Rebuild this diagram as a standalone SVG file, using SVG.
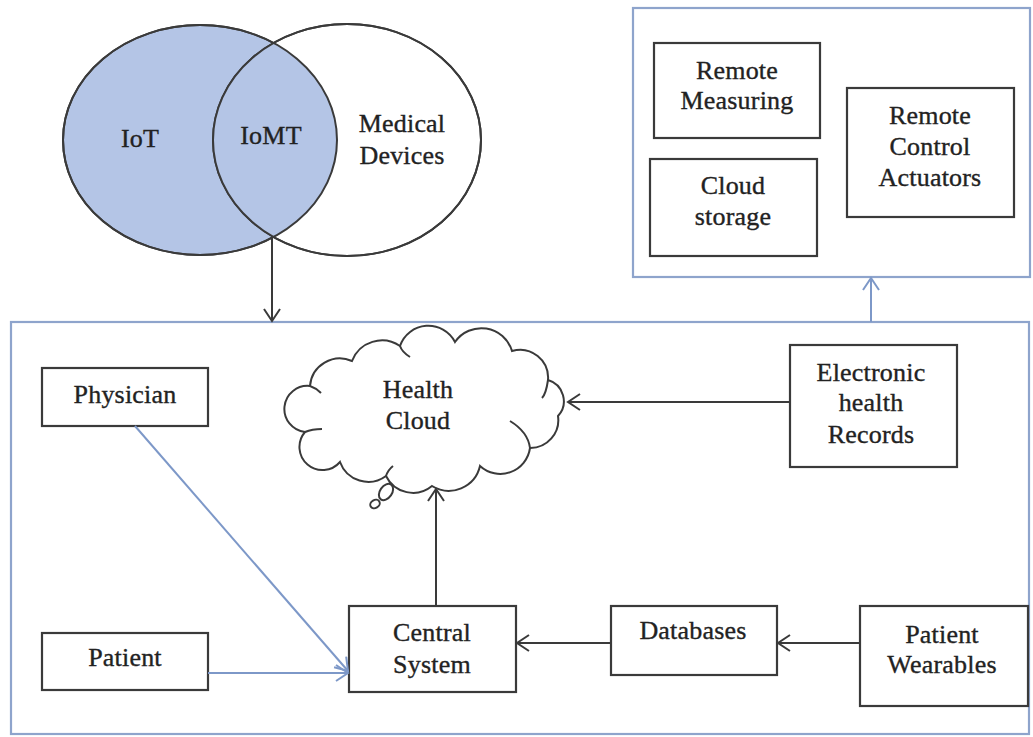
<svg xmlns="http://www.w3.org/2000/svg" width="1033" height="737" viewBox="0 0 1033 737">
<style>
  .t{font-family:"Liberation Serif","Times New Roman",serif;font-size:26px;fill:#222;stroke:#222;stroke-width:0.35px;text-anchor:middle;letter-spacing:0.2px}
  .box{fill:#fff;stroke:#3a3a3a;stroke-width:2.2}
  .frame{fill:#fff;stroke:#8ea4cc;stroke-width:2.2}
  .k{stroke:#3a3a3a;stroke-width:2;fill:none}
  .b{stroke:#7d98c8;stroke-width:2;fill:none}
</style>
<defs>
  <marker id="ak" markerUnits="userSpaceOnUse" markerWidth="16" markerHeight="20" refX="13" refY="9" orient="auto">
    <path d="M1,1 L13,9 L1,17" fill="none" stroke="#3a3a3a" stroke-width="2"/>
  </marker>
  <marker id="ab" markerUnits="userSpaceOnUse" markerWidth="16" markerHeight="20" refX="13" refY="9" orient="auto">
    <path d="M1,1 L13,9 L1,17" fill="none" stroke="#7d98c8" stroke-width="2"/>
  </marker>
  <clipPath id="cl"><ellipse cx="200" cy="140" rx="137" ry="115"/></clipPath>
</defs>
<rect width="1033" height="737" fill="#fff"/>

<g id="frames">
  <rect class="frame" x="633" y="8" width="397" height="269"/>
  <rect class="frame" x="11" y="322" width="1018" height="412"/>
</g>

<g id="venn">
  <ellipse cx="200" cy="140" rx="137" ry="115" fill="#b4c5e6" stroke="#3a3a3a" stroke-width="2"/>
  <ellipse cx="347" cy="140" rx="134" ry="116" fill="#fff" stroke="#3a3a3a" stroke-width="2"/>
  <ellipse cx="347" cy="140" rx="134" ry="116" fill="#b4c5e6" stroke="none" clip-path="url(#cl)"/>
  <ellipse cx="347" cy="140" rx="134" ry="116" fill="none" stroke="#3a3a3a" stroke-width="2"/>
  <ellipse cx="200" cy="140" rx="137" ry="115" fill="none" stroke="#3a3a3a" stroke-width="2"/>
  <text class="t" x="140" y="147">IoT</text>
  <text class="t" x="271" y="144">IoMT</text>
  <text class="t" x="402" y="132">Medical</text>
  <text class="t" x="402" y="164">Devices</text>
</g>

<g id="remote-measuring">
  <rect class="box" x="654" y="43" width="166" height="95"/>
  <text class="t" x="737" y="79">Remote</text>
  <text class="t" x="737" y="109">Measuring</text>
</g>
<g id="cloud-storage">
  <rect class="box" x="650" y="159" width="167" height="97"/>
  <text class="t" x="733" y="194">Cloud</text>
  <text class="t" x="733" y="225">storage</text>
</g>
<g id="remote-control">
  <rect class="box" x="847" y="88" width="167" height="129"/>
  <text class="t" x="930" y="124">Remote</text>
  <text class="t" x="930" y="155">Control</text>
  <text class="t" x="930" y="186">Actuators</text>
</g>

<g id="health-cloud">
  <path class="k" fill="#fff" d="M305,432 A22,22 0 0 1 310,386 A30,30 0 0 1 352,361 A32,32 0 0 1 400,346 A30,30 0 0 1 455,342 A32,32 0 0 1 512,351 A28,28 0 0 1 548,380 A22,22 0 0 1 558,416 A28,28 0 0 1 530,448 A30,30 0 0 1 480,466 A32,32 0 0 1 432,486 A30,30 0 0 1 386,476 A30,30 0 0 1 340,462 A22,22 0 0 1 305,432 Z"/>
  <path class="k" d="M310,386 Q316,388 321,393"/>
  <path class="k" d="M305,432 Q312,429 322,429"/>
  <path class="k" d="M386,476 Q388,470 393,466"/>
  <path class="k" d="M530,448 Q528,432 510,421"/>
  <path class="k" d="M548,380 Q546,394 542,398"/>
  <path class="k" d="M400,346 Q402,352 410,357"/>
  <ellipse cx="386" cy="492" rx="6" ry="9" transform="rotate(35 386 492)" class="k" fill="#fff"/>
  <ellipse cx="375" cy="504" rx="5" ry="4" transform="rotate(-30 375 504)" class="k" fill="#fff"/>
  <text class="t" x="418" y="398">Health</text>
  <text class="t" x="418" y="429">Cloud</text>
</g>

<g id="physician">
  <rect class="box" x="42" y="368" width="166" height="58"/>
  <text class="t" x="125" y="403">Physician</text>
</g>
<g id="patient">
  <rect class="box" x="42" y="633" width="166" height="57"/>
  <text class="t" x="125" y="666">Patient</text>
</g>
<g id="central-system">
  <rect class="box" x="349" y="606" width="167" height="86"/>
  <text class="t" x="432" y="641">Central</text>
  <text class="t" x="432" y="673">System</text>
</g>
<g id="databases">
  <rect class="box" x="611" y="606" width="166" height="69"/>
  <text class="t" x="693" y="639">Databases</text>
</g>
<g id="patient-wearables">
  <rect class="box" x="860" y="606" width="168" height="100"/>
  <text class="t" x="942" y="643">Patient</text>
  <text class="t" x="942" y="673">Wearables</text>
</g>
<g id="ehr">
  <rect class="box" x="790" y="345" width="167" height="122"/>
  <text class="t" x="871" y="381">Electronic</text>
  <text class="t" x="871" y="411">health</text>
  <text class="t" x="871" y="443">Records</text>
</g>

<g id="connectors">
  <line class="k" x1="272" y1="237" x2="272" y2="321" marker-end="url(#ak)"/>
  <line class="b" x1="871" y1="322" x2="871" y2="278" marker-end="url(#ab)"/>
  <line class="b" x1="135" y1="426" x2="348" y2="671" marker-end="url(#ab)"/>
  <line class="b" x1="208" y1="673" x2="348" y2="673" marker-end="url(#ab)"/>
  <line class="k" x1="436" y1="606" x2="436" y2="489" marker-end="url(#ak)"/>
  <line class="k" x1="790" y1="402" x2="568" y2="402" marker-end="url(#ak)"/>
  <line class="k" x1="611" y1="643" x2="517" y2="643" marker-end="url(#ak)"/>
  <line class="k" x1="860" y1="643" x2="778" y2="643" marker-end="url(#ak)"/>
</g>
</svg>
